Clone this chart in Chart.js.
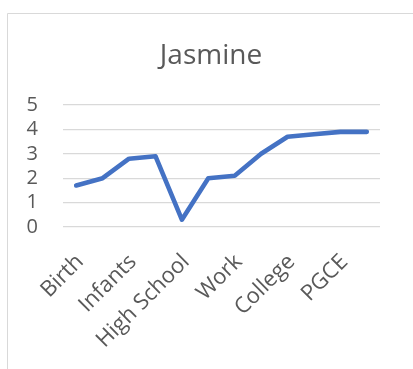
<!DOCTYPE html>
<html>
<head>
<meta charset="utf-8">
<script src="https://cdn.jsdelivr.net/npm/chart.js@4/dist/chart.umd.min.js"></script>
<style>
  html, body { margin: 0; padding: 0; background: #ffffff; }
  #wrap { position: relative; width: 413px; height: 369px; }
</style>
</head>
<body>
<div id="wrap"><canvas id="chart" width="413" height="369"></canvas></div>
<script>
// Life stages along the timeline (only every other stage carries a name on the axis)
const categories = ['Birth', '', 'Infants', '', 'High School', '', 'Work', '', 'College', '', 'PGCE', ''];
// Score at each stage
const scores = [1.7, 2.0, 2.8, 2.9, 0.3, 2.0, 2.1, 3.0, 3.7, 3.8, 3.9, 3.9];
// Value axis labels
const yTicks = [0, 1, 2, 3, 4, 5];

const seriesName = 'Jasmine';

// Thin frame around the chart area (left and top edges)
const framePlugin = {
  id: 'frame',
  beforeDraw(chart) {
    const ctx = chart.ctx;
    ctx.save();
    ctx.fillStyle = '#ffffff';
    ctx.fillRect(0, 0, chart.width, chart.height);
    ctx.strokeStyle = '#d9d9d9';
    ctx.lineWidth = 1;
    ctx.beginPath();
    ctx.moveTo(7.5, chart.height);
    ctx.lineTo(7.5, 13.5);
    ctx.lineTo(chart.width, 13.5);
    ctx.stroke();
    ctx.restore();
  }
};

new Chart(document.getElementById('chart'), {
  type: 'line',
  data: {
    labels: categories,
    datasets: [{
      label: seriesName,
      data: scores,
      borderColor: '#4472c4',
      borderWidth: 4.6,
      borderCapStyle: 'round',
      borderJoinStyle: 'round',
      pointRadius: 0,
      tension: 0,
      fill: false
    }]
  },
  options: {
    responsive: false,
    animation: false,
    devicePixelRatio: 1,
    layout: { padding: { left: 9, right: 0, top: 39, bottom: 0 } },
    plugins: {
      legend: { display: false },
      tooltip: { enabled: false },
      title: {
        display: true,
        text: seriesName,
        color: '#595959',
        font: { family: 'Open Sans', size: 28, weight: 'normal', lineHeight: 1.2 },
        padding: { top: 0, bottom: 32.4 }
      }
    },
    scales: {
      x: {
        offset: true,
        grid: { display: false },
        border: { display: false },
        ticks: {
          autoSkip: false,
          minRotation: 45,
          maxRotation: 45,
          padding: 14,
          labelOffset: 4,
          color: '#595959',
          font: { family: 'Open Sans', size: 22 }
        },
        afterFit(scale) { scale.height = 142; }
      },
      y: {
        min: yTicks[0],
        max: yTicks[yTicks.length - 1],
        grid: { color: '#d9d9d9', lineWidth: 1.3, drawTicks: false },
        border: { display: false },
        ticks: {
          autoSkip: false,
          stepSize: yTicks[1] - yTicks[0],
          padding: 25,
          color: '#595959',
          font: { family: 'Open Sans', size: 20 }
        },
        afterFit(scale) { scale.width = 54; }
      },
      // empty margin on the right side of the plot
      yRight: {
        position: 'right',
        grid: { display: false },
        border: { display: false },
        ticks: { display: false },
        afterFit(scale) { scale.width = 33; }
      }
    }
  },
  plugins: [framePlugin]
});
</script>
</body>
</html>
